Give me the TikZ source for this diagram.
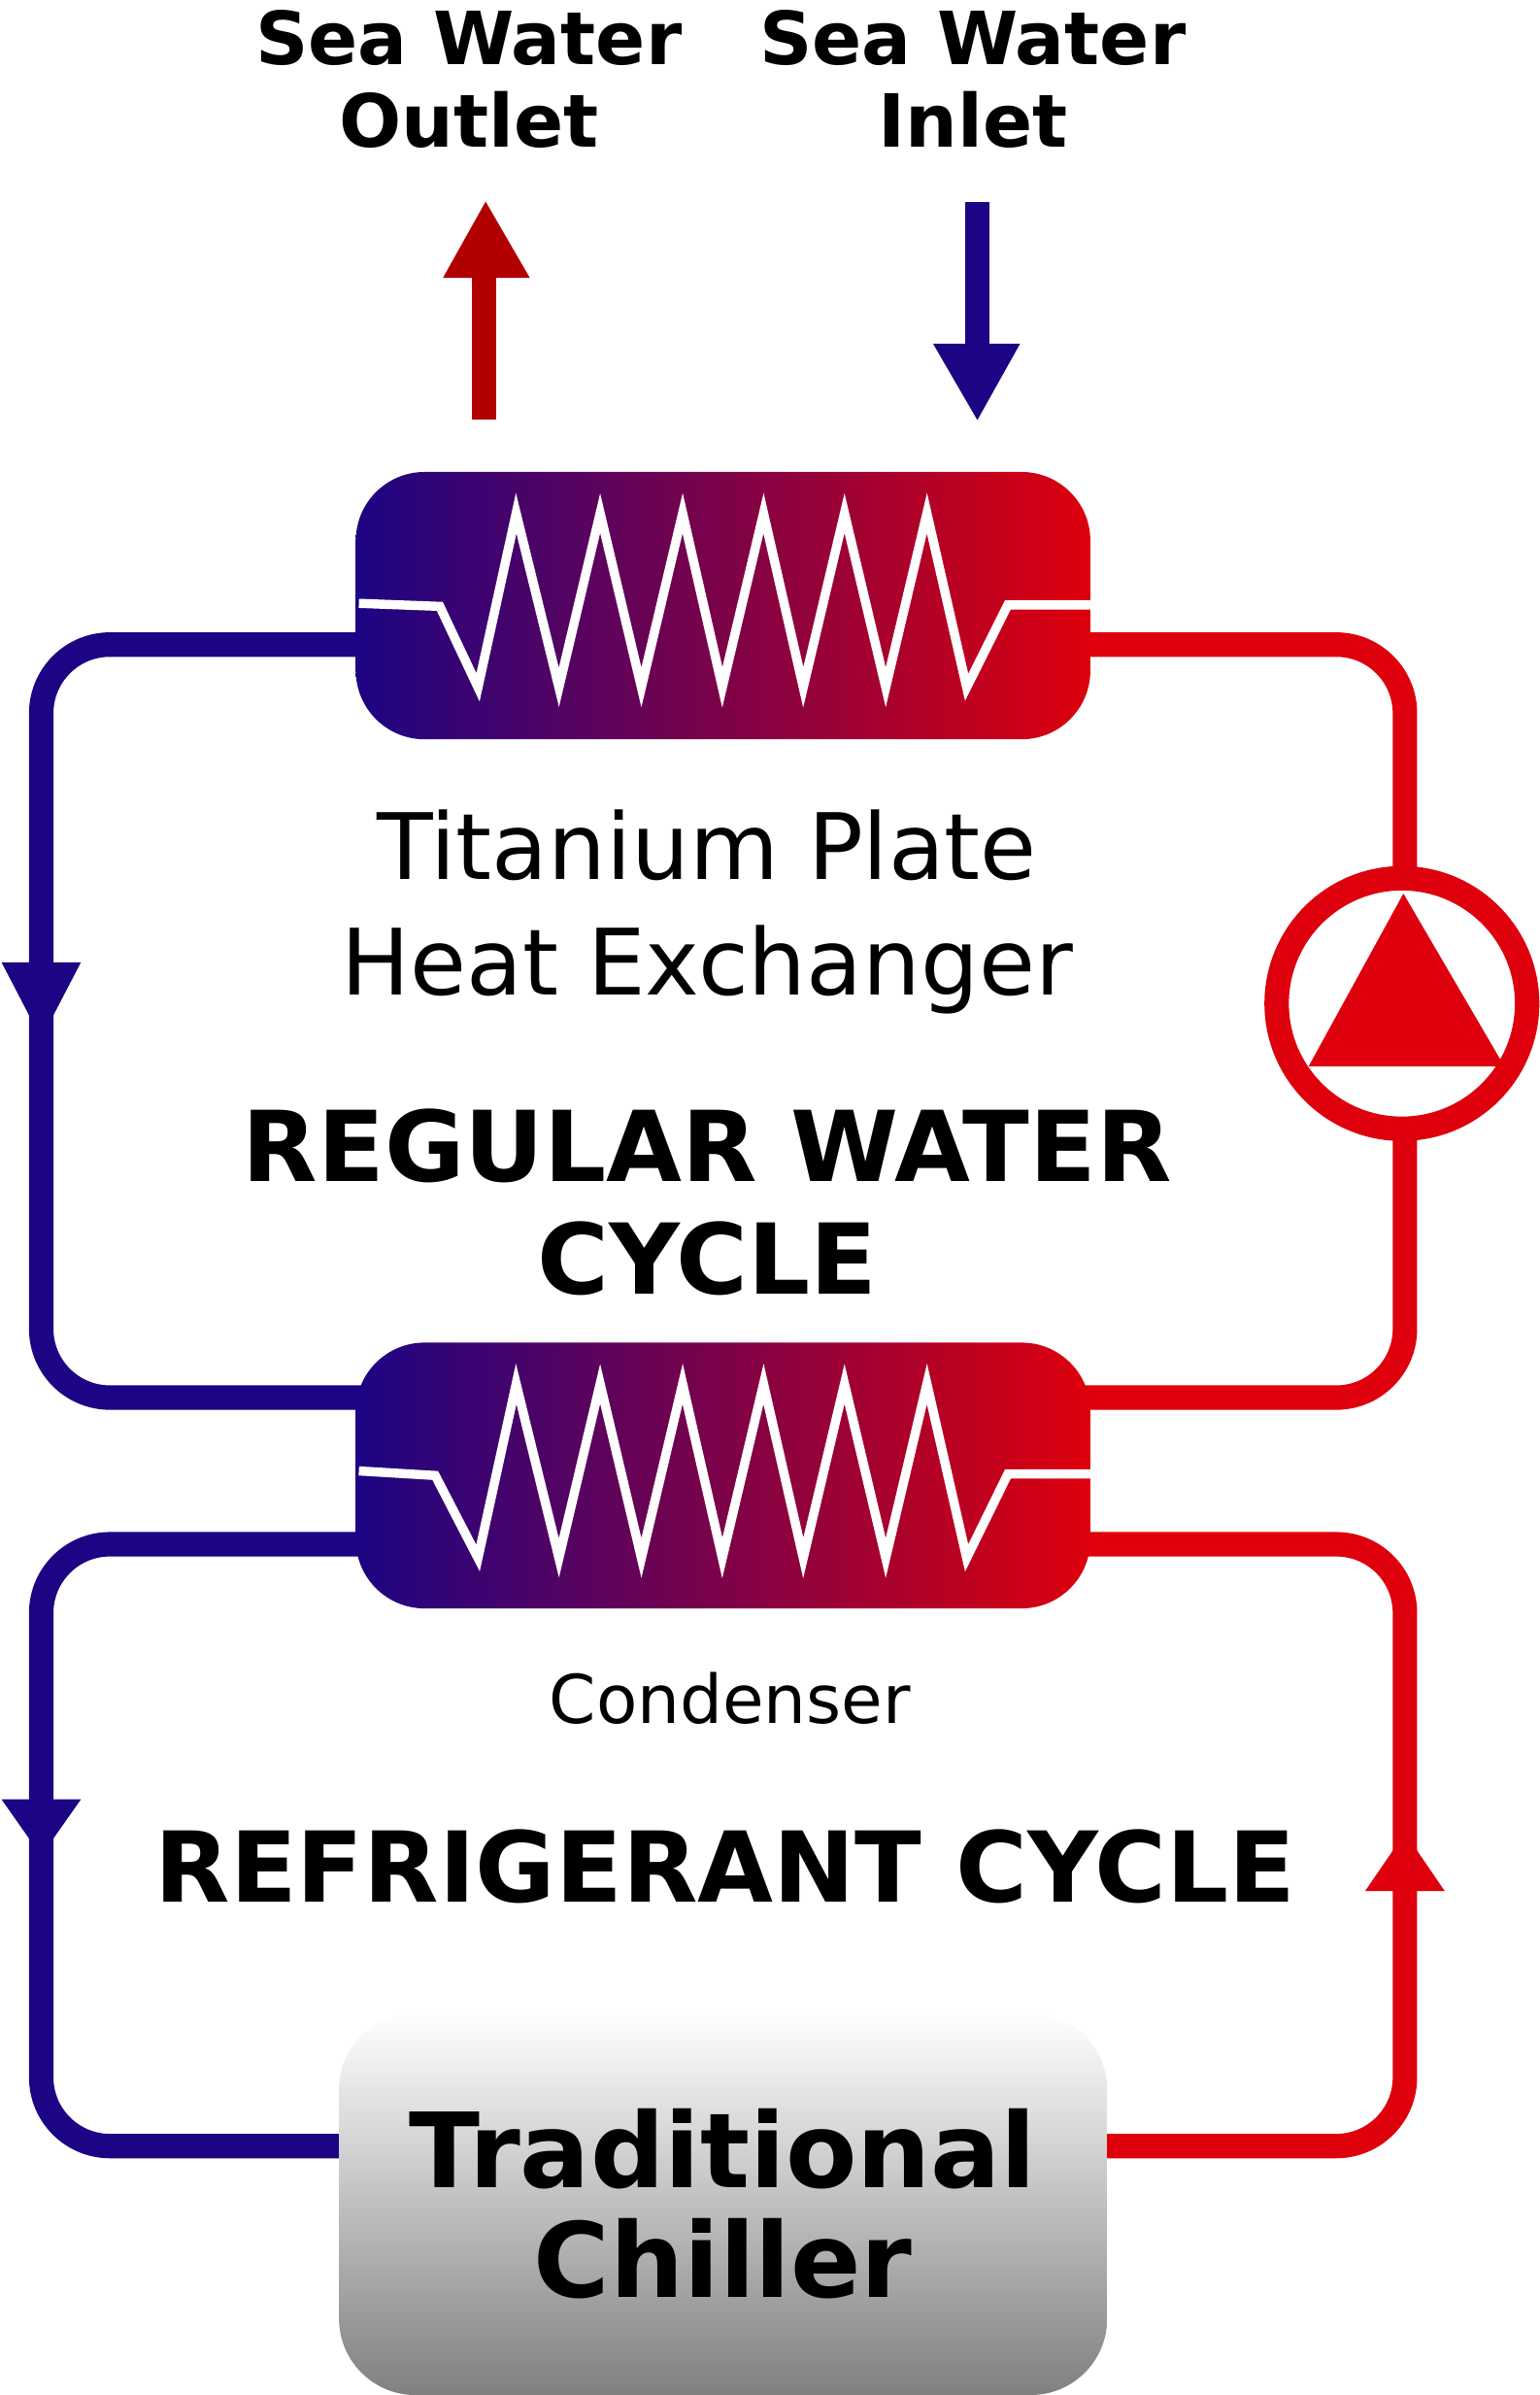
\documentclass[tikz,border=0pt]{standalone}
\usepackage{fontspec}
\setmainfont{DejaVu Sans}
\definecolor{cblue}{RGB}{28,4,132}
\definecolor{cred}{RGB}{222,0,12}
\definecolor{cdred}{RGB}{178,0,0}
\definecolor{cgray}{RGB}{128,128,128}
\tikzset{
  pipeblue/.style={draw=cblue,line width=16pt,rounded corners=45pt},
  pipered/.style={draw=cred,line width=16pt,rounded corners=45pt},
  hxbox/.style={rounded corners=45pt,left color=cblue,right color=cred,draw=none},
  coil/.style={draw=white,line width=6pt,line join=miter},
  bigbold/.style={font=\bfseries\fontsize{64}{74}\selectfont,align=center},
  plain/.style={font=\fontsize{60}{76}\selectfont,align=center}
}
\begin{document}
\begin{tikzpicture}[x=1pt,y=-1pt]
\useasboundingbox[fill=white] (0,0) rectangle (1008,1568);
% pipes of the water cycle
\coordinate (hxAwl) at (240,422);
\coordinate (hxAwr) at (706,422);
\coordinate (hxBwl) at (240,915);
\coordinate (hxBwr) at (706,915);
\draw[pipeblue] (hxAwl) -- (27,422) -- (27,915) -- (hxBwl);
\draw[pipered] (hxAwr) -- (920,422) -- (920,915) -- (hxBwr);
% pipes of the refrigerant cycle
\coordinate (hxBrl) at (240,1011);
\coordinate (hxBrr) at (706,1011);
\coordinate (chl) at (230,1405);
\coordinate (chr) at (718,1405);
\draw[pipeblue] (hxBrl) -- (27,1011) -- (27,1405) -- (chl);
\draw[pipered] (hxBrr) -- (920,1011) -- (920,1405) -- (chr);
% flow arrows
\fill[cblue] (1,630) -- (53,630) -- (27,680) -- cycle;
\fill[cblue] (1,1178) -- (53,1178) -- (27,1215) -- cycle;
\fill[cred] (894,1238) -- (946,1238) -- (920,1200) -- cycle;
% pump
\node (pump) [circle,draw=cred,line width=16pt,fill=white,minimum size=164pt] at (918,657) {};
\fill[cred] (857,698) -- (985,698) -- (919,585) -- cycle;
% heat exchangers
\node (hxA) [hxbox,minimum width=481pt,minimum height=175pt] at (473.5,396.5) {};
\draw[coil] (235,395) -- (288,397) -- (313,450) -- (338,336) -- (366,450) -- (393,336)
  -- (420,450) -- (447,336) -- (473,450) -- (500,336) -- (526,450) -- (553,336)
  -- (580,450) -- (607,336) -- (633,450) -- (660,396) -- (714,396);
\node (hxB) [hxbox,minimum width=481pt,minimum height=174pt] at (473.5,966) {};
\draw[coil] (235,963) -- (285,966) -- (313,1020) -- (338,906) -- (366,1020) -- (393,906)
  -- (420,1020) -- (447,906) -- (473,1020) -- (500,906) -- (526,1020) -- (553,906)
  -- (580,1020) -- (607,906) -- (633,1020) -- (660,965) -- (714,965);
% chiller
\node (chiller) [rounded corners=50pt,minimum width=503pt,minimum height=250pt,
  shading=axis,shading angle=135,top color=white,bottom color=cgray,
  bigbold,font=\bfseries\fontsize{68}{72}\selectfont] at (473.5,1443) {Traditional\\Chiller};
% sea water
\fill[cdred] (309,275) rectangle (325,180);
\fill[cdred] (290,182) -- (347,182) -- (318,132) -- cycle;
\fill[cblue] (632,132) rectangle (648,227);
\fill[cblue] (611,225) -- (668,225) -- (640,275) -- cycle;
\node (outlet) [font=\bfseries\fontsize{48}{54}\selectfont,align=center] at (307,52) {Sea Water\\Outlet};
\node (inlet) [font=\bfseries\fontsize{48}{54}\selectfont,align=center] at (637,52) {Sea Water\\Inlet};
% labels
\node (hxlabel) [plain] at (463,597) {Titanium Plate\\Heat Exchanger};
\node (water) [bigbold] at (463,787) {REGULAR WATER\\CYCLE};
\node (cond) [font=\fontsize{44}{50}\selectfont] at (478,1112) {Condenser};
\node (refr) [bigbold] at (475,1222) {REFRIGERANT CYCLE};
\end{tikzpicture}
\end{document}
